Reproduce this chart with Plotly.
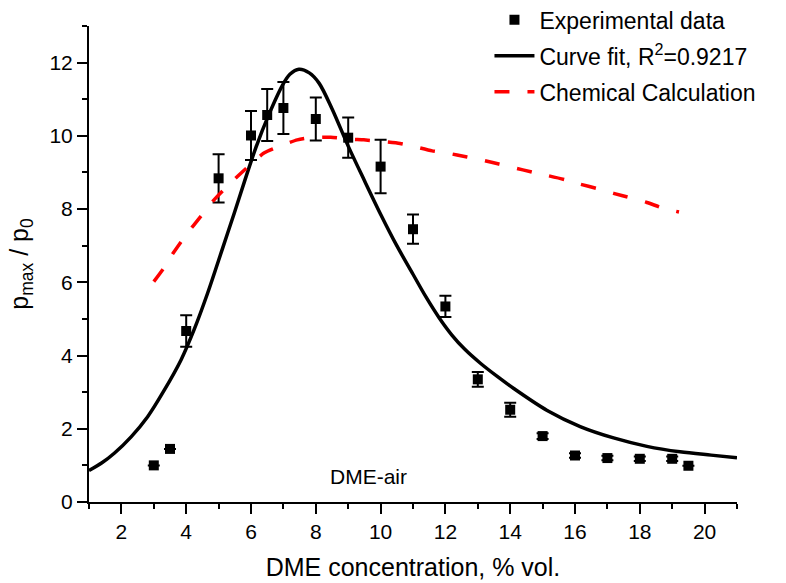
import plotly.graph_objects as go

# Experimental peak pressure ratios with error bars
exp_x = [3, 3.5, 4, 5, 6, 6.5, 7, 8, 9, 10, 11, 12, 13, 14, 15, 16, 17, 18, 19, 19.5]
exp_y = [1.0, 1.45, 4.67, 8.84, 10.01, 10.57, 10.76, 10.46, 9.95, 9.16, 7.45, 5.34,
         3.35, 2.52, 1.80, 1.27, 1.20, 1.18, 1.18, 0.99]
exp_err = [0.0, 0.0, 0.43, 0.66, 0.67, 0.71, 0.71, 0.59, 0.55, 0.73, 0.40, 0.29,
           0.20, 0.19, 0.08, 0.06, 0.06, 0.06, 0.06, 0.0]

# Fitted curve
fit_x = [1.0, 1.4, 1.78, 2.3, 2.81, 3.3, 3.84, 4.25, 4.66, 5.12, 5.48, 5.79, 6.15,
         6.56, 6.97, 7.2, 7.48, 7.8, 8.1, 8.5, 9.0, 9.5, 10.0, 10.5, 11.0, 11.4,
         11.8, 12.2, 12.6, 13.08, 13.6, 14.11, 15.14, 16.16, 17.19, 18.22, 19.24, 20.2, 21.0]
fit_y = [0.86, 1.07, 1.33, 1.78, 2.33, 3.02, 3.88, 4.72, 5.70, 6.92, 7.88, 8.73, 9.68,
         10.60, 11.38, 11.68, 11.82, 11.72, 11.44, 10.74, 9.72, 8.78, 7.86, 7.00, 6.22, 5.60,
         5.04, 4.56, 4.17, 3.79, 3.43, 3.10, 2.50, 2.06, 1.75, 1.52, 1.37, 1.28, 1.21]

# Chemical equilibrium calculation
calc_x = [3.0, 3.3, 3.6, 4.0, 4.45, 4.86, 5.58, 6.4, 6.86, 7.43, 7.84, 8.46, 9.07,
          9.48, 10.1, 10.6, 11.02, 11.59, 12.05, 12.67, 13.13, 13.65, 14.11, 14.67,
          15.13, 15.7, 16.16, 16.73, 17.19, 17.75, 18.22, 18.73, 19.21]
calc_y = [6.02, 6.38, 6.8, 7.3, 7.8, 8.25, 8.89, 9.53, 9.71, 9.89, 9.95, 9.96, 9.91,
          9.89, 9.84, 9.79, 9.71, 9.59, 9.53, 9.42, 9.34, 9.23, 9.13, 9.01,
          8.92, 8.80, 8.68, 8.55, 8.43, 8.30, 8.18, 8.02, 7.92]

x_ticks = [2, 4, 6, 8, 10, 12, 14, 16, 18, 20]
y_ticks = [0, 2, 4, 6, 8, 10, 12]

FONT = "Arial, Liberation Sans, sans-serif"

fig = go.Figure()

fig.add_trace(go.Scatter(
    x=exp_x, y=exp_y, mode="markers", name="Experimental data",
    legendgroup="a",
    marker=dict(symbol="square", size=10, color="black"),
    error_y=dict(type="data", array=exp_err, visible=True, color="black",
                 thickness=2, width=6),
))

fig.add_trace(go.Scatter(
    x=fit_x, y=fit_y, mode="lines", name="Curve fit, R<sup>2</sup>=0.9217",
    legendgroup="b",
    line=dict(color="black", width=3.5, shape="spline", smoothing=0.9),
))

fig.add_trace(go.Scatter(
    x=calc_x, y=calc_y, mode="lines", name="Chemical Calculation",
    legendgroup="c",
    line=dict(color="#ff0000", width=3.5, dash="15px,18px", shape="spline", smoothing=0.6),
))

fig.add_annotation(
    x=9.63, y=0.69, xref="x", yref="y", text="DME-air", showarrow=False,
    font=dict(family=FONT, size=21, color="black"),
)

axis_common = dict(
    showline=True, linecolor="black", linewidth=2,
    ticks="outside", ticklen=10, tickwidth=2, tickcolor="black",
    showgrid=False, zeroline=False, mirror=False,
    tickfont=dict(family=FONT, size=21, color="black"),
)

fig.update_xaxes(
    range=[1, 21], tickmode="array", tickvals=x_ticks,
    minor=dict(dtick=1, tick0=1, ticks="outside", ticklen=5, tickwidth=2, tickcolor="black"),
    title=dict(text="DME concentration, % vol.", font=dict(family=FONT, size=25, color="black"),
               standoff=16),
    **axis_common,
)
fig.update_yaxes(
    range=[0, 13], tickmode="array", tickvals=y_ticks,
    minor=dict(dtick=1, tick0=0, ticks="outside", ticklen=5, tickwidth=2, tickcolor="black"),
    title=dict(text="p<sub>max</sub> / p<sub>0</sub>", font=dict(family=FONT, size=25, color="black"),
               standoff=14),
    **axis_common,
)

fig.update_layout(
    width=786, height=583,
    margin=dict(l=89, r=49, t=26, b=81, autoexpand=False),
    paper_bgcolor="white", plot_bgcolor="white",
    showlegend=True,
    legend=dict(
        x=0.618, y=1.058, xanchor="left", yanchor="top",
        bgcolor="rgba(0,0,0,0)", borderwidth=0,
        font=dict(family=FONT, size=23, color="black"),
        traceorder="grouped", tracegroupgap=3, itemwidth=40,
    ),
)

fig.write_html("out.html")
